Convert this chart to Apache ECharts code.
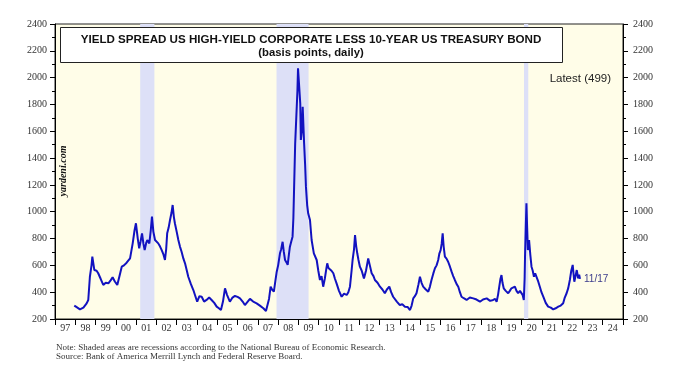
<!DOCTYPE html>
<html>
<head>
<meta charset="utf-8">
<script src="https://cdn.jsdelivr.net/npm/echarts@6/dist/echarts.min.js"></script>
<style>
html,body{margin:0;padding:0;background:#fff;}
#chart{width:696px;height:376px;}
</style>
</head>
<body>
<div id="chart"></div>
<script>
// Year tick labels
var yearLabels = ['97','98','99','00','01','02','03','04','05','06','07','08','09','10','11','12','13','14','15','16','17','18','19','20','21','22','23','24'];

// Dates (decimal years) and spread values (basis points)
var dates = [
1997.95,1998.05,1998.23,1998.40,1998.56,1998.64,1998.72,1998.80,1998.84,1998.94,
1999.05,1999.13,1999.25,1999.38,1999.50,1999.63,1999.75,1999.84,1999.95,2000.07,
2000.18,2000.29,2000.40,2000.53,2000.70,2000.83,2000.92,2000.99,2001.08,2001.15,
2001.22,2001.29,2001.36,2001.42,2001.50,2001.55,2001.65,2001.72,2001.78,2001.85,
2001.93,2002.00,2002.09,2002.18,2002.26,2002.35,2002.42,2002.48,2002.53,2002.60,
2002.67,2002.74,2002.80,2002.86,2002.91,2003.00,2003.08,2003.16,2003.24,2003.33,
2003.41,2003.50,2003.57,2003.70,2003.82,2003.92,2004.01,2004.12,2004.23,2004.35,
2004.47,2004.60,2004.72,2004.85,2004.97,2005.08,2005.18,2005.28,2005.38,2005.48,
2005.62,2005.75,2005.87,2006.00,2006.12,2006.25,2006.36,2006.50,2006.61,2006.77,
2006.94,2007.10,2007.27,2007.40,2007.46,2007.55,2007.63,2007.70,2007.79,2007.86,
2007.93,2008.00,2008.09,2008.15,2008.22,2008.28,2008.34,2008.42,2008.47,2008.53,
2008.58,2008.65,2008.71,2008.75,2008.78,2008.84,2008.91,2008.95,2008.98,2009.02,
2009.04,2009.09,2009.12,2009.17,2009.21,2009.28,2009.33,2009.37,2009.43,2009.48,
2009.57,2009.65,2009.76,2009.90,2009.98,2010.06,2010.14,2010.22,2010.30,2010.38,
2010.42,2010.48,2010.55,2010.63,2010.72,2010.80,2010.88,2011.00,2011.13,2011.25,
2011.38,2011.46,2011.54,2011.62,2011.67,2011.74,2011.79,2011.85,2011.90,2011.96,
2012.03,2012.12,2012.23,2012.33,2012.44,2012.52,2012.61,2012.70,2012.77,2012.90,
2013.02,2013.14,2013.26,2013.36,2013.48,2013.57,2013.67,2013.85,2014.00,2014.12,
2014.25,2014.38,2014.50,2014.58,2014.66,2014.74,2014.82,2014.92,2014.99,2015.07,
2015.15,2015.28,2015.40,2015.48,2015.56,2015.65,2015.73,2015.81,2015.89,2015.95,
2016.01,2016.06,2016.11,2016.16,2016.22,2016.30,2016.38,2016.47,2016.55,2016.63,
2016.71,2016.80,2016.88,2016.96,2017.04,2017.15,2017.29,2017.45,2017.62,2017.78,
2017.95,2018.10,2018.28,2018.45,2018.60,2018.70,2018.77,2018.84,2018.90,2018.96,
2019.01,2019.06,2019.12,2019.22,2019.34,2019.42,2019.50,2019.58,2019.67,2019.75,
2019.83,2019.92,2019.99,2020.05,2020.11,2020.15,2020.17,2020.21,2020.24,2020.27,
2020.31,2020.34,2020.37,2020.43,2020.49,2020.55,2020.61,2020.67,2020.74,2020.82,
2020.90,2020.98,2021.07,2021.19,2021.31,2021.44,2021.56,2021.68,2021.81,2021.93,
2022.05,2022.13,2022.22,2022.30,2022.38,2022.45,2022.52,2022.56,2022.60,2022.66,
2022.72,2022.76,2022.79,2022.84,2022.88
];
var spread = [
300,290,272,285,317,342,515,600,665,565,
560,541,500,454,470,466,490,511,480,454,
520,590,600,620,652,764,860,914,800,727,
780,839,760,714,770,789,764,860,963,850,
789,800,764,740,714,680,640,720,839,880,
938,990,1050,960,914,850,789,740,702,650,
615,560,515,460,416,370,329,370,366,330,
342,360,342,320,292,280,267,330,429,380,
329,360,372,365,354,330,304,330,350,330,
317,300,280,260,255,350,441,420,404,480,
553,600,690,720,776,700,640,620,603,680,
739,780,814,950,1137,1510,1758,1900,2069,2070,
2057,1808,1535,1609,1783,1510,1350,1187,1050,988,
938,789,690,640,560,491,520,441,500,580,
615,580,590,560,541,500,466,410,366,390,
379,400,441,560,640,720,826,740,690,640,
590,560,503,560,652,600,541,520,491,470,
441,420,392,420,441,400,366,330,304,310,
292,290,267,300,354,370,392,460,515,470,
441,420,404,440,491,540,578,600,640,690,
714,760,839,740,665,650,627,590,553,520,
491,460,441,400,366,355,342,360,354,345,
329,345,354,335,342,350,329,380,441,500,
528,470,429,410,392,410,429,420,441,410,
392,410,416,380,342,500,665,900,1063,900,
714,760,789,680,590,560,515,540,528,480,
441,400,366,320,292,285,272,280,292,300,
317,360,392,430,491,560,603,540,478,520,
565,530,503,530,499
];

// Recession periods (decimal years)
var recessionStart = [2001.2, 2007.92, 2020.12];
var recessionEnd   = [2001.9, 2009.5, 2020.33];

var yTicks = {min: 200, max: 2400, interval: 200};

var lineData = dates.map(function(d, i){ return [d, spread[i]]; });
var bands = recessionStart.map(function(s, i){ return [{xAxis: s}, {xAxis: recessionEnd[i]}]; });

var chart = echarts.init(document.getElementById('chart'), null, {renderer: 'canvas'});
var serif = '"Liberation Serif","Times New Roman",serif';
var sans = '"Liberation Sans",Arial,sans-serif';

function yAxisCfg(pos, margin){
  return {
    type: 'value', position: pos, min: yTicks.min, max: yTicks.max, interval: yTicks.interval,
    axisLine: {show: true, lineStyle: {color: '#000', width: 1}},
    axisTick: {show: true, length: 5, lineStyle: {color: '#000'}},
    minorTick: {show: true, splitNumber: 2, length: 3, lineStyle: {color: '#000'}},
    axisLabel: {fontFamily: serif, fontSize: 10, color: '#333', margin: margin, formatter: function(v){ return String(v); }},
    splitLine: {show: false}
  };
}

chart.setOption({
  animation: false,
  backgroundColor: '#fff',
  grid: {left: 55, right: 73, top: 24, bottom: 57, show: true, backgroundColor: '#FFFDE8', borderColor: '#222', borderWidth: 1},
  xAxis: [
    {
      type: 'category', data: yearLabels, boundaryGap: true, position: 'bottom',
      axisLine: {show: true, lineStyle: {color: '#000', width: 1}},
      axisTick: {show: true, length: 6, lineStyle: {color: '#000'}},
      axisLabel: {fontFamily: serif, fontSize: 10, color: '#333', margin: 4, interval: 0},
      splitLine: {show: false}
    },
    {
      type: 'value', min: 1997, max: 2025, show: false, position: 'bottom',
      splitLine: {show: false}
    }
  ],
  yAxis: [yAxisCfg('left', 8), yAxisCfg('right', 10)],
  series: [{
    type: 'line', xAxisIndex: 1, yAxisIndex: 0, data: lineData,
    showSymbol: false, symbol: 'none',
    lineStyle: {color: '#1212C0', width: 2},
    endLabel: {show: true, formatter: '11/17', color: '#3c3c8c', fontFamily: sans, fontSize: 10, distance: 4},
    markArea: {silent: true, itemStyle: {color: '#DDE0F7'}, data: bands},
    z: 3
  }],
  graphic: [
    {type: 'rect', z: 100, shape: {x: 60.5, y: 27.5, width: 502, height: 35}, style: {fill: '#fff', stroke: '#222', lineWidth: 1}},
    {type: 'text', z: 101, x: 311, y: 40, style: {text: 'YIELD SPREAD US HIGH-YIELD CORPORATE LESS 10-YEAR US TREASURY BOND', fontFamily: sans, fontWeight: 'bold', fontSize: 11.6, fill: '#111', textAlign: 'center', textVerticalAlign: 'middle'}},
    {type: 'text', z: 101, x: 311, y: 53, style: {text: '(basis points, daily)', fontFamily: sans, fontWeight: 'bold', fontSize: 11.3, fill: '#111', textAlign: 'center', textVerticalAlign: 'middle'}},
    {type: 'text', z: 101, x: 611, y: 79, style: {text: 'Latest (499)', fontFamily: sans, fontSize: 11.5, fill: '#222', textAlign: 'right', textVerticalAlign: 'middle'}},
    {type: 'text', z: 101, x: 63, y: 171, rotation: Math.PI / 2, style: {text: 'yardeni.com', fontFamily: serif, fontWeight: 'bold', fontStyle: 'italic', fontSize: 10, fill: '#111', textAlign: 'center', textVerticalAlign: 'middle'}},
    {type: 'text', z: 101, x: 56, y: 348, style: {text: 'Note: Shaded areas are recessions according to the National Bureau of Economic Research.', fontFamily: serif, fontSize: 9, fill: '#333', textVerticalAlign: 'middle'}},
    {type: 'text', z: 101, x: 56, y: 357, style: {text: 'Source: Bank of America Merrill Lynch and Federal Reserve Board.', fontFamily: serif, fontSize: 9, fill: '#333', textVerticalAlign: 'middle'}}
  ]
});
</script>
</body>
</html>
